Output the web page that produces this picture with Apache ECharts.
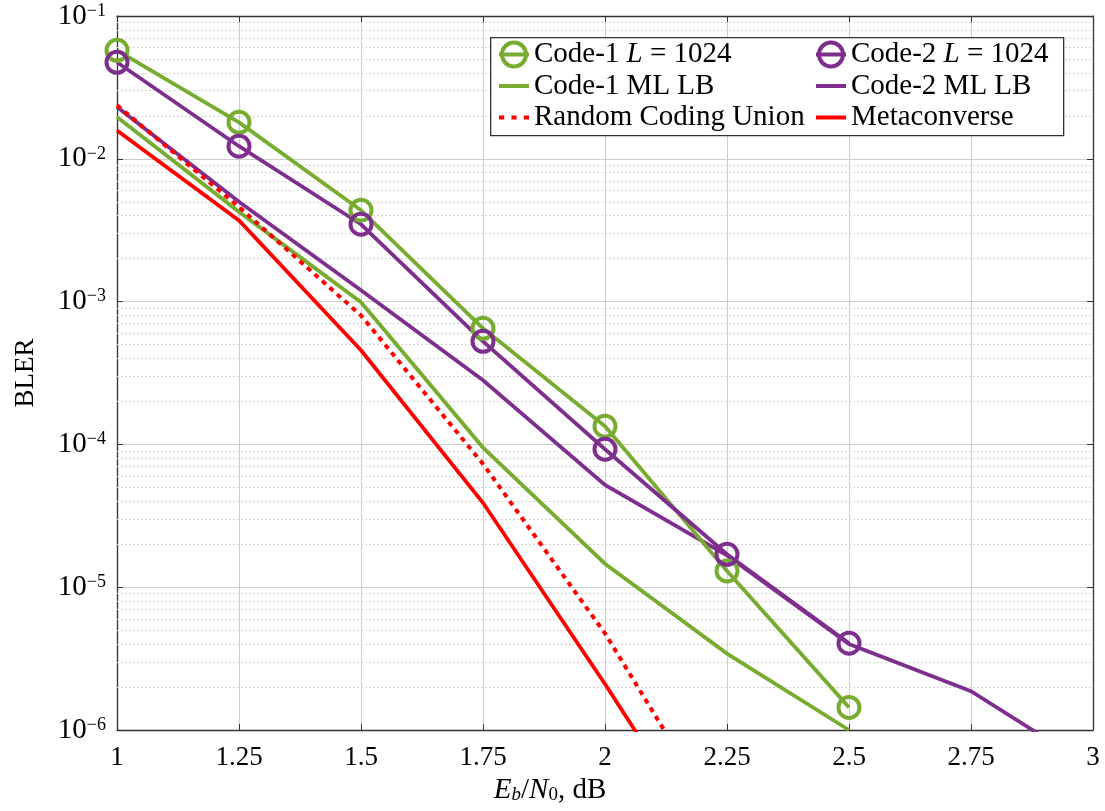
<!DOCTYPE html>
<html>
<head>
<meta charset="utf-8">
<script src="https://cdn.jsdelivr.net/npm/echarts@6/dist/echarts.min.js"></script>
<style>html,body{margin:0;padding:0;background:#fff}#c{width:1105px;height:811px}</style>
</head>
<body>
<div id="c"></div>
<script>
// ---- data ----
const ebn0 = [1, 1.25, 1.5, 1.75, 2, 2.25, 2.5, 2.75, 3];
const code1L = [0.0575, 0.0180, 0.00436, 6.5e-4, 1.34e-4, 1.30e-5, 1.44e-6];
const code2L = [0.0474, 0.01225, 0.00348, 5.27e-4, 9.25e-5, 1.70e-5, 4.05e-6];
const code1ML = [0.0196, 0.00425, 9.9e-4, 9.5e-5, 1.46e-5, 3.43e-6, 1.0e-6];
const code2ML = [0.0231, 0.0050, 1.2e-3, 2.81e-4, 5.2e-5, 1.67e-5, 4.0e-6, 1.87e-6, 5.4e-7];
const rcu = [0.0237, 0.0046, 8.0e-4, 7.3e-5, 4.75e-6, 1.9e-7];
const meta = [0.0158, 0.0037, 4.56e-4, 3.9e-5, 2.1e-6, 1.0e-7];
const seriesNames = ['Code-1 L = 1024', 'Code-2 L = 1024', 'Code-1 ML LB', 'Code-2 ML LB', 'Random Coding Union', 'Metaconverse'];
const xTicks = [1, 1.25, 1.5, 1.75, 2, 2.25, 2.5, 2.75, 3];
const yDecades = [-6, -5, -4, -3, -2, -1];

const GREEN = '#77AC30', PURPLE = '#7E2F8E', RED = '#FF0000';
const FONT = 'Liberation Serif';

function pairs(vals) { return vals.map((v, i) => [ebn0[i], v]); }

const minorVals = [];
yDecades.slice(0, -1).forEach(e => { for (let k = 2; k <= 9; k++) minorVals.push(k * Math.pow(10, e)); });
const xMin = xTicks[0], xMax = xTicks[xTicks.length - 1];

const chart = echarts.init(document.getElementById('c'), null, {renderer: 'canvas'});

function lineSeries(name, data, color, opts) {
  return Object.assign({
    name: name, type: 'line', data: pairs(data), xAxisIndex: 0, yAxisIndex: 0,
    showSymbol: false, symbol: 'none', clip: true, animation: false, z: 3,
    lineStyle: {color: color, width: 3.8, cap: 'butt', join: 'miter'},
    itemStyle: {color: color},
    emphasis: {disabled: true}
  }, opts || {});
}
function markerSeries(name, data, color) {
  return {
    name: name, type: 'line', data: pairs(data), clip: true, animation: false, z: 4,
    symbol: 'circle', symbolSize: 21, showSymbol: true,
    lineStyle: {color: color, width: 3.8},
    itemStyle: {color: 'rgba(255,255,255,0)', borderColor: color, borderWidth: 4},
    emphasis: {disabled: true}
  };
}

const LFS = 29;
const legendText = {
  fontFamily: FONT, fontSize: LFS, color: '#000',
  rich: {n: {fontFamily: FONT, fontSize: LFS, color: '#000'}, i: {fontFamily: FONT, fontSize: LFS, fontStyle: 'italic', color: '#000'}}
};
function legendFmt(name) {
  const m = name.match(/^(.*) L = (.*)$/);
  if (m) return '{n|' + m[1] + ' }{i|L}{n| = ' + m[2] + '}';
  return name;
}
const barIcon = 'path://M0 0H30V4H0Z';
const dotIcon = 'path://M0 0H5V4H0Z M12 0H17V4H12Z M24 0H29V4H24Z';
function markerItem(name) { return {name: name, itemStyle: {borderWidth: 4}, lineStyle: {width: 4}}; }
function lineItem(name, icon) { return {name: name, icon: icon}; }

const legendCommon = {orient: 'vertical', top: 35, z: 60, itemWidth: 30, itemHeight: 30, itemGap: 2.5,
  symbolKeepAspect: true, textStyle: legendText, formatter: legendFmt, selectedMode: false};

const option = {
  backgroundColor: '#fff',
  animation: false,
  grid: {left: 117, right: 12, top: 16, bottom: 81, containLabel: false},
  graphic: [{
    type: 'rect', z: 50, left: 490, top: 37,
    shape: {width: 573, height: 98},
    style: {fill: '#fff', stroke: '#333', lineWidth: 1.3}
  }],
  legend: [
    Object.assign({left: 492, data: [markerItem(seriesNames[0]), lineItem(seriesNames[2], barIcon), lineItem(seriesNames[4], dotIcon)]}, legendCommon),
    Object.assign({left: 809, data: [markerItem(seriesNames[1]), lineItem(seriesNames[3], barIcon), lineItem(seriesNames[5], barIcon)]}, legendCommon)
  ],
  xAxis: [{
    type: 'value', min: xMin, max: xMax, interval: 0.25, position: 'bottom',
    name: '{i|E}{subi|b}{n|/}{i|N}{sub|0}{n|, dB}', nameLocation: 'middle', nameGap: 40,
    nameTextStyle: {padding: [0, 110, 0, 0], rich: {
      i: {fontFamily: FONT, fontSize: 29, fontStyle: 'italic', color: '#000'},
      n: {fontFamily: FONT, fontSize: 29, color: '#000'},
      sub: {fontFamily: FONT, fontSize: 19, color: '#000', verticalAlign: 'bottom', padding: [8, 0, 0, 0]},
      subi: {fontFamily: FONT, fontSize: 19, fontStyle: 'italic', color: '#000', verticalAlign: 'bottom', padding: [8, 0, 0, 0]}
    }},
    axisLine: {show: true, onZero: false, lineStyle: {color: '#333', width: 1.3}},
    axisTick: {show: true, inside: true, length: 6, lineStyle: {color: '#333'}},
    axisLabel: {fontFamily: FONT, fontSize: 27, color: '#000', margin: 14, formatter: v => String(v)},
    splitLine: {show: true, lineStyle: {color: '#cccccc', width: 1}}
  }, {
    type: 'value', min: xMin, max: xMax, interval: 0.25, position: 'top',
    axisLine: {show: true, onZero: false, lineStyle: {color: '#333', width: 1.3}},
    axisTick: {show: true, inside: true, length: 6, lineStyle: {color: '#333'}},
    axisLabel: {show: false}, splitLine: {show: false}
  }],
  yAxis: [{
    type: 'log', logBase: 10, min: 1e-6, max: 1e-1, position: 'left',
    name: 'BLER', nameLocation: 'middle', nameGap: 78, nameRotate: 90,
    nameTextStyle: {fontFamily: FONT, fontSize: 27, color: '#000'},
    axisLine: {show: true, onZero: false, lineStyle: {color: '#333', width: 1.3}},
    axisTick: {show: true, inside: true, length: 6, lineStyle: {color: '#333'}},
    axisLabel: {
      margin: 11,
      formatter: v => '{b|10}{s|\u2212' + Math.abs(Math.round(Math.log10(v))) + '}',
      rich: {
        b: {fontFamily: FONT, fontSize: 29, color: '#000', lineHeight: 28},
        s: {fontFamily: FONT, fontSize: 18, color: '#000', verticalAlign: 'top', lineHeight: 18}
      }
    },
    splitLine: {show: true, lineStyle: {color: '#cccccc', width: 1}}
  }, {
    type: 'log', logBase: 10, min: 1e-6, max: 1e-1, position: 'right',
    axisLine: {show: true, onZero: false, lineStyle: {color: '#333', width: 1.3}},
    axisTick: {show: true, inside: true, length: 6, lineStyle: {color: '#333'}},
    axisLabel: {show: false}, splitLine: {show: false}
  }],
  series: [
    {
      name: 'minor-grid', type: 'lines', coordinateSystem: 'cartesian2d', polyline: false,
      silent: true, animation: false, z: 1,
      effect: {show: false},
      lineStyle: {color: '#d4d4d4', type: [2, 2], width: 1, opacity: 1},
      data: minorVals.map(v => ({coords: [[xMin, v], [xMax, v]]}))
    },
    lineSeries(seriesNames[2], code1ML, GREEN),
    lineSeries(seriesNames[3], code2ML, PURPLE),
    lineSeries(seriesNames[4], rcu, RED, {lineStyle: {color: RED, width: 4, type: [5, 5], cap: 'butt'}}),
    lineSeries(seriesNames[5], meta, RED),
    markerSeries(seriesNames[0], code1L, GREEN),
    markerSeries(seriesNames[1], code2L, PURPLE)
  ]
};
chart.setOption(option);
</script>
</body>
</html>
